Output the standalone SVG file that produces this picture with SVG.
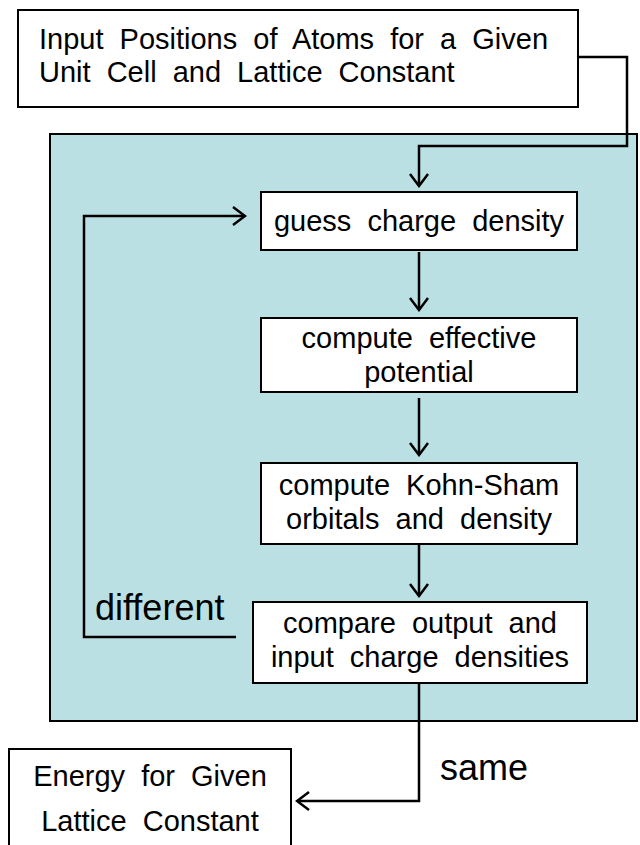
<svg xmlns="http://www.w3.org/2000/svg" width="640" height="845" viewBox="0 0 640 845">
<style>
.box{fill:#ffffff;stroke:#000000;stroke-width:2}
.panel{fill:#bbe0e3;stroke:#000000;stroke-width:2}
.t{font-family:"Liberation Sans",Arial,sans-serif;font-size:29px;fill:#000000;word-spacing:8px}
.c{text-anchor:middle}
.lbl{font-family:"Liberation Sans",Arial,sans-serif;font-size:36px;fill:#000000}
.ln{fill:none;stroke:#000000;stroke-width:2.5;marker-end:url(#arr)}
</style>
<defs>
<marker id="arr" viewBox="-14 -10 16 20" refX="0" refY="0" markerWidth="16" markerHeight="20" markerUnits="userSpaceOnUse" orient="auto">
<path d="M-12,-9 L0,0 L-12,9" fill="none" stroke="#000000" stroke-width="2.5"/>
</marker>
</defs>
<rect id="panel" class="panel" x="50" y="134" width="587" height="587"/>
<g id="input">
<rect class="box" x="18" y="10" width="560" height="97"/>
<text class="t" x="39" y="49">Input Positions of Atoms for a Given</text>
<text class="t" x="39" y="82">Unit Cell and Lattice Constant</text>
</g>
<g id="guess">
<rect class="box" x="261" y="192" width="316" height="58"/>
<text class="t c" x="419" y="231">guess charge density</text>
</g>
<g id="effective">
<rect class="box" x="261" y="318" width="316" height="74"/>
<text class="t c" x="419" y="348">compute effective</text>
<text class="t c" x="419" y="382">potential</text>
</g>
<g id="kohnsham">
<rect class="box" x="261" y="463" width="316" height="81"/>
<text class="t c" x="419" y="495">compute Kohn-Sham</text>
<text class="t c" x="419" y="529">orbitals and density</text>
</g>
<g id="compare">
<rect class="box" x="253" y="602" width="334" height="81"/>
<text class="t c" x="420" y="633">compare output and</text>
<text class="t c" x="420" y="667">input charge densities</text>
</g>
<g id="energy">
<rect class="box" x="9" y="749" width="282" height="110"/>
<text class="t c" x="150" y="786">Energy for Given</text>
<text class="t c" x="150" y="831">Lattice Constant</text>
</g>
<g id="connectors">
<path class="ln" d="M578,57 H627 V146 H419 V186"/>
<path class="ln" d="M419,252 V310"/>
<path class="ln" d="M419,398 V455"/>
<path class="ln" d="M419,544 V596"/>
<path class="ln" d="M236,637 H84 V216 H245"/>
<path class="ln" d="M419,683 V801 H297"/>
<text class="lbl" x="95" y="620">different</text>
<text class="lbl" x="440" y="780">same</text>
</g>
</svg>
